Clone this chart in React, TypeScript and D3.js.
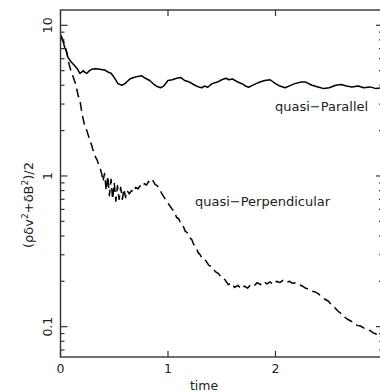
import React from "react";
import * as d3 from "d3";

const tPar = [0, 0.02, 0.04, 0.055, 0.07, 0.085, 0.1, 0.13, 0.16, 0.18, 0.2, 0.21, 0.23, 0.245, 0.27, 0.29, 0.32, 0.35, 0.38, 0.41, 0.44, 0.47, 0.5, 0.535, 0.57, 0.6, 0.645, 0.68, 0.72, 0.755, 0.79, 0.83, 0.87, 0.9, 0.93, 0.96, 1.0, 1.04, 1.08, 1.12, 1.155, 1.2, 1.25, 1.285, 1.315, 1.34, 1.37, 1.41, 1.46, 1.5, 1.54, 1.565, 1.6, 1.65, 1.7, 1.72, 1.75, 1.78, 1.82, 1.855, 1.9, 1.95, 2.0, 2.04, 2.09, 2.125, 2.18, 2.24, 2.28, 2.34, 2.395, 2.45, 2.5, 2.56, 2.61, 2.66, 2.71, 2.77, 2.82, 2.88, 2.935, 3.0];
const vPar = [8.6, 8.0, 7.1, 6.7, 6.1, 5.9, 5.7, 5.4, 5.1, 4.8, 4.9, 5.0, 4.85, 4.8, 5.0, 5.1, 5.15, 5.12, 5.08, 5.05, 4.9, 4.8, 4.5, 4.1, 4.0, 4.1, 4.4, 4.5, 4.58, 4.62, 4.45, 4.3, 4.05, 3.92, 3.85, 3.95, 4.3, 4.35, 4.45, 4.5, 4.3, 4.2, 4.0, 3.9, 3.85, 3.95, 3.88, 4.1, 4.2, 4.35, 4.45, 4.35, 4.4, 4.2, 4.05, 3.95, 3.88, 3.98, 4.1, 4.2, 4.3, 4.35, 4.1, 3.95, 3.85, 3.95, 4.1, 4.2, 4.2, 4.0, 3.9, 3.8, 3.85, 4.0, 4.05, 3.95, 3.9, 3.95, 3.85, 3.9, 3.8, 3.85];

const tPerp = [0, 0.02, 0.04, 0.06, 0.08, 0.1, 0.12, 0.14, 0.165, 0.18, 0.2, 0.225, 0.245, 0.27, 0.29, 0.31, 0.32, 0.34, 0.35, 0.37, 0.385, 0.395, 0.41, 0.425, 0.44, 0.455, 0.47, 0.485, 0.5, 0.515, 0.53, 0.545, 0.56, 0.575, 0.59, 0.605, 0.62, 0.64, 0.66, 0.68, 0.7, 0.72, 0.74, 0.76, 0.78, 0.8, 0.82, 0.84, 0.86, 0.88, 0.9, 0.92, 0.94, 0.96, 0.98, 1.0, 1.02, 1.04, 1.06, 1.08, 1.1, 1.12, 1.14, 1.16, 1.18, 1.2, 1.22, 1.24, 1.26, 1.28, 1.3, 1.32, 1.35, 1.38, 1.41, 1.44, 1.47, 1.5, 1.53, 1.56, 1.59, 1.62, 1.65, 1.68, 1.71, 1.74, 1.77, 1.8, 1.83, 1.86, 1.89, 1.92, 1.95, 1.98, 2.01, 2.04, 2.07, 2.1, 2.13, 2.16, 2.19, 2.22, 2.25, 2.28, 2.31, 2.34, 2.37, 2.4, 2.43, 2.46, 2.49, 2.52, 2.55, 2.58, 2.61, 2.64, 2.67, 2.7, 2.73, 2.76, 2.79, 2.82, 2.85, 2.88, 2.91, 2.94, 2.97, 3.0];
const vPerp = [8.6, 8.1, 7.4, 6.5, 5.5, 4.9, 4.5, 4.1, 3.4, 3.2, 2.6, 2.15, 2.0, 1.75, 1.6, 1.42, 1.36, 1.28, 1.22, 1.12, 1.02, 0.92, 1.04, 0.8, 1.0, 0.74, 0.95, 0.7, 0.9, 0.68, 0.86, 0.7, 0.84, 0.7, 0.82, 0.72, 0.8, 0.76, 0.8, 0.78, 0.84, 0.82, 0.86, 0.84, 0.89, 0.87, 0.92, 0.89, 0.93, 0.88, 0.86, 0.82, 0.77, 0.73, 0.69, 0.66, 0.63, 0.6, 0.58, 0.53, 0.52, 0.48, 0.47, 0.43, 0.42, 0.39, 0.38, 0.35, 0.34, 0.31, 0.3, 0.28, 0.275, 0.255, 0.25, 0.232, 0.225, 0.21, 0.205, 0.19, 0.195, 0.182, 0.188, 0.178, 0.186, 0.18, 0.19, 0.186, 0.196, 0.19, 0.2, 0.192, 0.198, 0.19, 0.2, 0.196, 0.203, 0.196, 0.2, 0.194, 0.196, 0.19, 0.186, 0.18, 0.178, 0.172, 0.17, 0.165, 0.158, 0.152, 0.148, 0.14, 0.134, 0.127, 0.122, 0.116, 0.112, 0.109, 0.106, 0.102, 0.101, 0.098, 0.097, 0.094, 0.091, 0.089, 0.086, 0.083];

const xTicks = [0, 1, 2];
const yMajor = [0.1, 1, 10];
const yMajorLabels = ["0.1", "1", "10"];
const yMinor = [0.07, 0.08, 0.09, 0.2, 0.3, 0.4, 0.5, 0.6, 0.7, 0.8, 0.9, 2, 3, 4, 5, 6, 7, 8, 9];
const labelPar = "quasi\u2212Parallel";
const labelPerp = "quasi\u2212Perpendicular";

const W = 380, H = 392;
const L = 60.5, R = 383, T = 10, B = 357;

export default function App() {
  const x = d3.scaleLinear().domain([0, 3]).range([L, R]);
  const y = d3.scaleLog().domain([0.0629, 12.63]).range([B, T]);
  const line = d3.line<[number, number]>().x(d => x(d[0])).y(d => y(d[1]));
  const parPts = tPar.map((t, i) => [t, vPar[i]] as [number, number]);
  const perpPts = tPerp.map((t, i) => [t, vPerp[i]] as [number, number]);
  const font = "'DejaVu Sans', sans-serif";
  const ax = "#333";
  const tc = "#222";
  return (
    <svg width={W} height={H} style={{ position: "absolute", left: 0, top: 0 }} fontFamily={font}>
      <defs>
        <clipPath id="plot"><rect x={L} y={T} width={R - L} height={B - T} /></clipPath>
      </defs>
      <rect x={0} y={0} width={W} height={H} fill="#fff" />
      <g clipPath="url(#plot)">
        <path d={line(parPts) || ""} fill="none" stroke="#000" strokeWidth={1.5} strokeLinejoin="round" />
        <path d={line(perpPts) || ""} fill="none" stroke="#000" strokeWidth={1.5} strokeDasharray="9,5" strokeLinejoin="round" />
      </g>
      <rect x={L} y={T} width={R - L} height={B - T} fill="none" stroke={ax} strokeWidth={1.4} />
      {xTicks.map(t => (
        <g key={"x" + t}>
          <line x1={x(t)} x2={x(t)} y1={B} y2={B - 6} stroke={ax} strokeWidth={1.2} />
          <line x1={x(t)} x2={x(t)} y1={T} y2={T + 6} stroke={ax} strokeWidth={1.2} />
          <text x={x(t)} y={373} textAnchor="middle" fontSize={12.5} fill={tc}>{t}</text>
        </g>
      ))}
      {yMajor.map((v, i) => (
        <g key={"ym" + v}>
          <line x1={L} x2={L + 7} y1={y(v)} y2={y(v)} stroke={ax} strokeWidth={1.2} />
          <line x1={R} x2={R - 7} y1={y(v)} y2={y(v)} stroke={ax} strokeWidth={1.2} />
          <text transform={`translate(52,${y(v)}) rotate(-90)`} textAnchor="middle" fontSize={12.5} fill={tc}>{yMajorLabels[i]}</text>
        </g>
      ))}
      {yMinor.map(v => (
        <g key={"yn" + v}>
          <line x1={L} x2={L + 4} y1={y(v)} y2={y(v)} stroke={ax} strokeWidth={1.2} />
          <line x1={R} x2={R - 4} y1={y(v)} y2={y(v)} stroke={ax} strokeWidth={1.2} />
        </g>
      ))}
      <text x={204} y={390} textAnchor="middle" fontSize={12.5} fill={tc}>time</text>
      <text transform="translate(33,205) rotate(-90)" textAnchor="middle" fontSize={13} fill={tc}>
        <tspan>(ρδv</tspan><tspan fontSize={9} dy={-5}>2</tspan><tspan dy={5}>+δB</tspan><tspan fontSize={9} dy={-5}>2</tspan><tspan dy={5}>)/2</tspan>
      </text>
      <text x={275} y={111} fontSize={13} fill={tc}>{labelPar}</text>
      <text x={195} y={206} fontSize={13} fill={tc}>{labelPerp}</text>
    </svg>
  );
}
